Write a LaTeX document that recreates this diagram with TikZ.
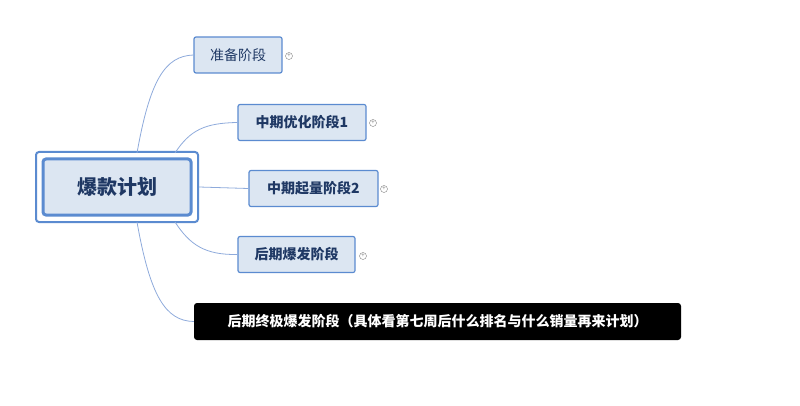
\documentclass[tikz,border=0pt]{standalone}
\usepackage{fontspec}
\setmainfont{Noto Sans CJK SC}
\usetikzlibrary{positioning}
\definecolor{bfill}{HTML}{DCE6F2}
\definecolor{bline}{HTML}{5B8BD0}
\definecolor{btext}{HTML}{1F3864}
\definecolor{cline}{HTML}{8EAADB}
\begin{document}
\begin{tikzpicture}[x=1pt,y=-1pt,
  topic/.style={draw=bline,fill=bfill,rounded corners=2pt,line width=1.2pt,text=btext,font=\fontsize{14}{16}\selectfont\bfseries,inner sep=0pt,minimum height=36pt},
  conn/.style={draw=cline,line width=0.8pt},
  plus/.style={circle,draw=gray,inner sep=0pt,minimum size=7pt,font=\fontsize{6}{6}\selectfont,text=gray}]
\useasboundingbox (0,0) rectangle (800,406);
\node[draw=bline,line width=2pt,rounded corners=3pt,minimum width=162pt,minimum height=70pt] (cout) at (117,187) {};
\node[draw=bline,fill=bfill,line width=3pt,rounded corners=3pt,minimum width=148pt,minimum height=56pt,text=btext,font=\fontsize{20}{22}\selectfont\bfseries] (c) at (117,187) {爆款计划};
\node[topic,font=\fontsize{14}{16}\selectfont,minimum width=88pt] (a) at (238,55) {准备阶段};
\node[topic,minimum width=128pt] (b) at (302,122.5) {中期优化阶段1};
\node[topic,minimum width=129pt] (d) at (313.5,188.5) {中期起量阶段2};
\node[topic,minimum width=117pt] (e) at (296.5,254.5) {后期爆发阶段};
\node[fill=black,rounded corners=3pt,text=white,font=\fontsize{14}{16}\selectfont\bfseries,minimum width=487pt,minimum height=37pt,inner sep=0pt] (f) at (437.5,321.5) {后期终极爆发阶段（具体看第七周后什么排名与什么销量再来计划）};
\node[plus] (pa) at (289,56) {+};
\node[plus] (pb) at (373,123) {+};
\node[plus] (pd) at (384,189) {+};
\node[plus] (pe) at (363,256) {+};
\draw[conn] (137,153) .. controls (150,80) and (165,56) .. (a.west);
\draw[conn] (175,153) .. controls (190,130) and (205,123) .. (b.west);
\draw[conn] (cout.east) -- (d.west);
\draw[conn] (175,222) .. controls (190,245) and (205,255) .. (e.west);
\draw[conn] (137,222) .. controls (150,295) and (165,321) .. (f.west);
\end{tikzpicture}
\end{document}
